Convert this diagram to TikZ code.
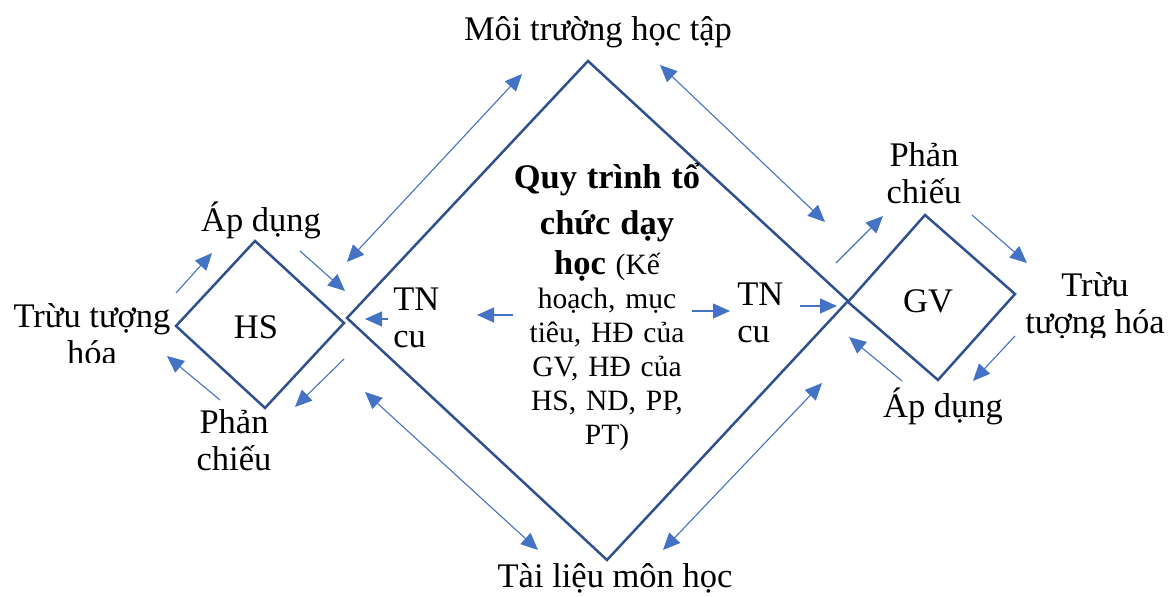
\documentclass[tikz,border=0pt]{standalone}
\usepackage{fontspec}
\setmainfont{Liberation Serif}
\usetikzlibrary{arrows.meta}
\definecolor{rimblue}{HTML}{2F528F}
\definecolor{arrblue}{HTML}{4472C4}

\begin{document}
\begin{tikzpicture}[x=0.5pt,y=-0.5pt,
    rim/.style={draw=rimblue,line width=1.25pt,line join=miter},
    arr/.style={draw=arrblue,line width=0.55pt,-{Triangle[length=8.5pt,width=7.5pt]}},
    darr/.style={draw=arrblue,line width=0.55pt,{Triangle[length=8.5pt,width=7.5pt]}-{Triangle[length=8.5pt,width=7.5pt]}},
    lbl/.style={font=\fontsize{17.25}{18.5}\selectfont,align=center,inner sep=0pt}]

    \useasboundingbox (0,0) rectangle (1172,597);

    % diamonds
    \coordinate (qt) at (588,61);  \coordinate (qr) at (848,301);
    \coordinate (qb) at (607,560); \coordinate (ql) at (347,318);
    \coordinate (ht) at (255,241); \coordinate (hr) at (344,323);
    \coordinate (hb) at (265,408); \coordinate (hl) at (176,326);
    \coordinate (gt) at (925,215); \coordinate (gr) at (1015,294);
    \coordinate (gb) at (938,380); \coordinate (gl) at (848,302);
    \draw[rim] (qt) -- (qr) -- (qb) -- (ql) -- cycle;
    \draw[rim] (ht) -- (hr) -- (hb) -- (hl) -- cycle;
    \draw[rim] (gt) -- (gr) -- (gb) -- (gl) -- cycle;

    % labels (base = last line)
    \node[lbl,anchor=base] (env) at (598,41) {Môi trường học tập};
    \node[lbl,anchor=base] (doc) at (615,588) {Tài liệu môn học};
    \node[lbl,anchor=base] (hs) at (256,339) {HS};
    \node[lbl,anchor=base] (gv) at (928,313) {GV};
    \node[lbl,anchor=base] (apl) at (261,232) {Áp dụng};
    \node[lbl,anchor=base] (apr) at (943,418) {Áp dụng};
    \node[lbl,align=left,anchor=base west] (tnl) at (393,348) {TN\\cu};
    \begin{scope}
        \clip (0,280) rectangle (180,363);
        \node[lbl,anchor=base] (trl) at (92,365) {Trừu tượng\\hóa};
    \end{scope}
    \begin{scope}
        \clip (180,395) rectangle (300,471);
        \node[lbl,anchor=base] (pcl) at (234,471) {Phản\\chiếu};
    \end{scope}
    \begin{scope}
        \clip (870,130) rectangle (980,205);
        \node[lbl,anchor=base] (pcr) at (924,204) {Phản\\chiếu};
    \end{scope}
    \begin{scope}
        \clip (1020,260) rectangle (1172,338);
        \node[lbl,anchor=base] (trr) at (1095,334) {Trừu\\tượng hóa};
    \end{scope}
    \begin{scope}
        \clip (730,270) rectangle (800,346);
        \node[lbl,align=left,anchor=base west] (tnr) at (737,343) {TN\\cu};
    \end{scope}
    \node[inner sep=0pt,text width=100pt,align=center,
        font=\fontsize{14.75}{17}\selectfont] (plan) at (607,307)
        {{\fontsize{17.25}{20}\selectfont\bfseries Quy trình tổ\\[3pt] chức dạy\\[3pt] học} (Kế\\
        hoạch, mục\\ tiêu, HĐ của\\ GV, HĐ của\\ HS, ND, PP,\\ PT)};

    % single arrows
    \foreach \n/\s/\e in {la/{176,293}/{212,253}, lb/{300,251}/{345,291},
        lc/{344,359}/{295,407}, ld/{220,400}/{167,356},
        ma/{513,315}/{477,315}, mb/{388,319}/{365,319},
        mc/{692,311}/{730,311}, md/{800,306}/{837,306},
        ra/{836,263}/{883,216}, rb/{972,215}/{1027,263},
        rc/{1015,336}/{973,381}, rd/{902,381}/{849,337}} {
        \coordinate (\n1) at (\s); \coordinate (\n2) at (\e);
        \draw[arr] (\n1) -- (\n2);
    }
    % double arrows
    \foreach \n/\s/\e in {da/{347,262}/{522,74}, db/{660,65}/{825,222},
        dc/{365,392}/{538,550}, dd/{822,383}/{663,550}} {
        \coordinate (\n1) at (\s); \coordinate (\n2) at (\e);
        \draw[darr] (\n1) -- (\n2);
    }
\end{tikzpicture}
\end{document}
